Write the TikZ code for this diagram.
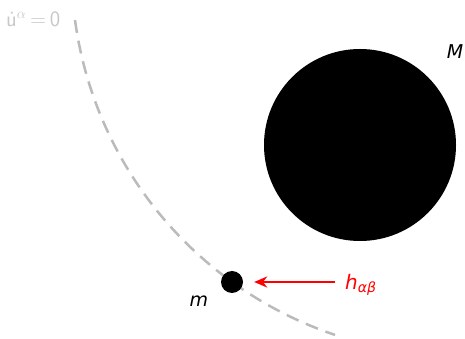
\documentclass[tikz,border=0pt]{standalone}
\usepackage{fontspec}
\setmainfont{DejaVu Sans}
\usepackage{xcolor}
\definecolor{worldline}{HTML}{BBBBBB}
\definecolor{faint}{HTML}{C8C8C8}
\usepackage{tikz}
\usetikzlibrary{arrows.meta, positioning}

\tikzset{
  mass/.style={circle, fill=black, inner sep=0pt},
  lbl/.style={font=\fontsize{19}{22}\selectfont\itshape, inner sep=0pt}
}

\begin{document}
\begin{tikzpicture}[x=1pt, y=1pt]
  \useasboundingbox (0,0) rectangle (465,339);

  % geodesic of the small body (arc through the particle)
  \draw[worldline, line width=2.5pt, dash pattern=on 13pt off 8pt]
    (75,319) arc[start angle=187.7, end angle=251.4, radius=387];

  % large and small mass
  \node[mass, minimum size=192pt] (bigM) at (360,194) {};
  \node[mass, minimum size=22pt] (smallm) at (232,57) {};

  % labels
  \node[lbl] (Mlab) at (455,287) {M};
  \node[lbl] (mlab) at (199,38) {m};
  \node[lbl, font=\fontsize{20}{23}\selectfont\itshape, text=red, anchor=west] (hlab) at (345,54) {h\textsubscript{αβ}};
  \node[font=\fontsize{22}{25}\selectfont\sffamily, text=faint, anchor=west, inner sep=0pt]
    (geo) at (6,320) {\.u$^{\alpha}$\,=\,0};

  % perturbation acting on m
  \draw[red, line width=2.2pt, -{Stealth[length=13pt, width=11pt]}]
    ([xshift=-10pt]hlab.west |- smallm) -- ([xshift=11pt]smallm.east);
\end{tikzpicture}
\end{document}
